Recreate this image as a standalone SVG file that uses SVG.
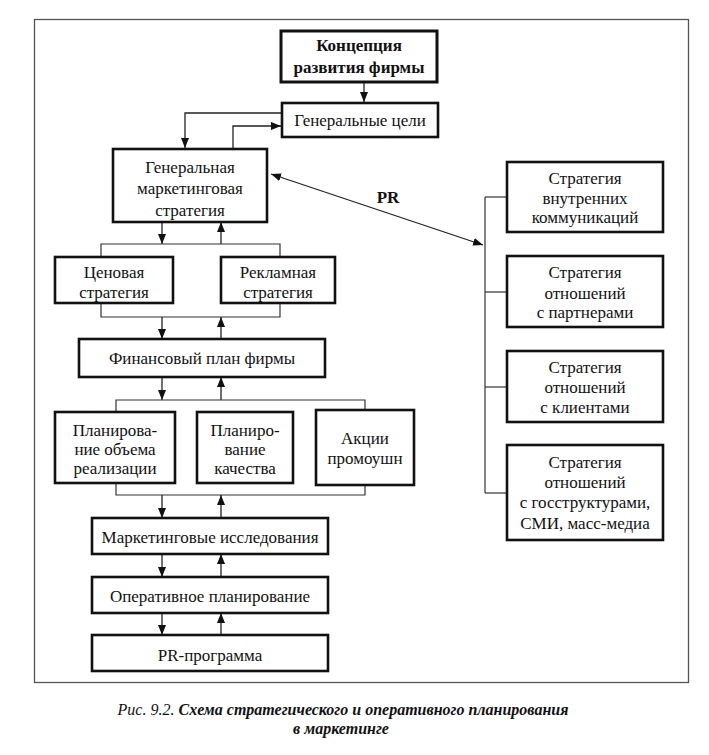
<svg xmlns="http://www.w3.org/2000/svg" width="709" height="755" viewBox="0 0 709 755">
<defs>
<marker id="ah" markerUnits="userSpaceOnUse" markerWidth="10" markerHeight="8" refX="10" refY="4" orient="auto-start-reverse">
<path d="M0,0 L10,4 L0,8 z" fill="#111"/>
</marker>
<style>
.box{fill:#fff;stroke:#111;stroke-width:2.6}
.ln{fill:none;stroke:#333;stroke-width:1.2}
.ar{fill:none;stroke:#222;stroke-width:1.3;marker-end:url(#ah)}
text{font-family:"Liberation Serif","Times New Roman",serif;font-size:17px;fill:#111;text-anchor:middle}
.b{font-weight:bold}
.cap{font-size:16px;font-style:italic}
</style>
</defs>
<rect width="709" height="755" fill="#fff"/>
<rect x="34.5" y="19.5" width="654" height="663" fill="none" stroke="#555" stroke-width="1.3"/>

<g id="connectors">
<line class="ar" x1="364" y1="82" x2="364" y2="102"/>
<polyline class="ar" points="282,113 185,113 185,148"/>
<polyline class="ar" points="233,149 233,126 281,126"/>
<line class="ar" x1="271" y1="174" x2="483" y2="245" style="marker-start:url(#ah)"/>
<line class="ln" x1="485" y1="197" x2="485" y2="493"/>
<line class="ln" x1="485" y1="197" x2="507" y2="197"/>
<line class="ln" x1="485" y1="292" x2="507" y2="292"/>
<line class="ln" x1="485" y1="387" x2="507" y2="387"/>
<line class="ln" x1="485" y1="493" x2="507" y2="493"/>

<line class="ar" x1="162" y1="222" x2="162" y2="244"/>
<line class="ar" x1="221" y1="244" x2="221" y2="222"/>
<polyline class="ln" points="101,257 101,244 280,244 280,257"/>
<polyline class="ln" points="101,303 101,317 280,317 280,303"/>
<line class="ar" x1="162" y1="317" x2="162" y2="339"/>
<line class="ar" x1="221" y1="339" x2="221" y2="317"/>
<line class="ar" x1="162" y1="377" x2="162" y2="400"/>
<line class="ar" x1="221" y1="400" x2="221" y2="377"/>
<polyline class="ln" points="116,412 116,400 365,400 365,410"/>
<polyline class="ln" points="116,483 116,495 365,495 365,485"/>
<line class="ar" x1="162" y1="495" x2="162" y2="518"/>
<line class="ar" x1="221" y1="518" x2="221" y2="495"/>
<line class="ar" x1="162" y1="554" x2="162" y2="577"/>
<line class="ar" x1="221" y1="577" x2="221" y2="554"/>
<line class="ar" x1="162" y1="613" x2="162" y2="635"/>
<line class="ar" x1="221" y1="635" x2="221" y2="613"/>
</g>
<text class="b" x="388" y="203">PR</text>

<g id="n-koncepciya">
<rect class="box" x="281" y="31" width="156" height="51" style="stroke-width:3"/>
<text class="b" x="359" y="51">Концепция</text>
<text class="b" x="359" y="73">развития фирмы</text>
</g>
<g id="n-gen-celi">
<rect class="box" x="282" y="103" width="156" height="34"/>
<text x="360" y="126">Генеральные цели</text>
</g>
<g id="n-gen-strat">
<rect class="box" x="113" y="149" width="154" height="73"/>
<text x="190" y="173">Генеральная</text>
<text x="190" y="194">маркетинговая</text>
<text x="190" y="216">стратегия</text>
</g>
<g id="n-cenovaya">
<rect class="box" x="55" y="257" width="118" height="46"/>
<text x="114" y="278">Ценовая</text>
<text x="114" y="298">стратегия</text>
</g>
<g id="n-reklamnaya">
<rect class="box" x="221" y="257" width="114" height="46"/>
<text x="278" y="278">Рекламная</text>
<text x="278" y="298">стратегия</text>
</g>
<g id="n-finplan">
<rect class="box" x="79" y="339" width="246" height="38"/>
<text x="202" y="364">Финансовый план фирмы</text>
</g>
<g id="n-plan-obem">
<rect class="box" x="55" y="412" width="120" height="71"/>
<text x="115" y="436">Планирова-</text>
<text x="115" y="455">ние объема</text>
<text x="115" y="474">реализации</text>
</g>
<g id="n-plan-kach">
<rect class="box" x="197" y="412" width="96" height="71"/>
<text x="245" y="436">Планиро-</text>
<text x="245" y="455">вание</text>
<text x="245" y="474">качества</text>
</g>
<g id="n-akcii">
<rect class="box" x="316" y="410" width="98" height="75"/>
<text x="365" y="444">Акции</text>
<text x="365" y="464">промоушн</text>
</g>
<g id="n-market-issl">
<rect class="box" x="92" y="518" width="236" height="36"/>
<text x="210" y="543">Маркетинговые исследования</text>
</g>
<g id="n-oper-plan">
<rect class="box" x="92" y="577" width="236" height="36"/>
<text x="210" y="602">Оперативное планирование</text>
</g>
<g id="n-pr-prog">
<rect class="box" x="92" y="635" width="236" height="36"/>
<text x="210" y="661">PR-программа</text>
</g>
<g id="n-vnutr">
<rect class="box" x="507" y="162" width="156" height="70"/>
<text x="585" y="184">Стратегия</text>
<text x="585" y="204">внутренних</text>
<text x="585" y="223">коммуникаций</text>
</g>
<g id="n-partnery">
<rect class="box" x="507" y="256" width="156" height="71"/>
<text x="585" y="278">Стратегия</text>
<text x="585" y="299">отношений</text>
<text x="585" y="318">с партнерами</text>
</g>
<g id="n-klienty">
<rect class="box" x="507" y="351" width="156" height="71"/>
<text x="585" y="373">Стратегия</text>
<text x="585" y="393">отношений</text>
<text x="585" y="413">с клиентами</text>
</g>
<g id="n-gos">
<rect class="box" x="507" y="445" width="156" height="95"/>
<text x="585" y="468">Стратегия</text>
<text x="585" y="488">отношений</text>
<text x="585" y="508">с госструктурами,</text>
<text x="585" y="529">СМИ, масс-медиа</text>
</g>

<text class="cap" x="343" y="715">Рис. 9.2. <tspan font-weight="bold">Схема стратегического и оперативного планирования</tspan></text>
<text class="cap b" x="341" y="734">в маркетинге</text>
</svg>
